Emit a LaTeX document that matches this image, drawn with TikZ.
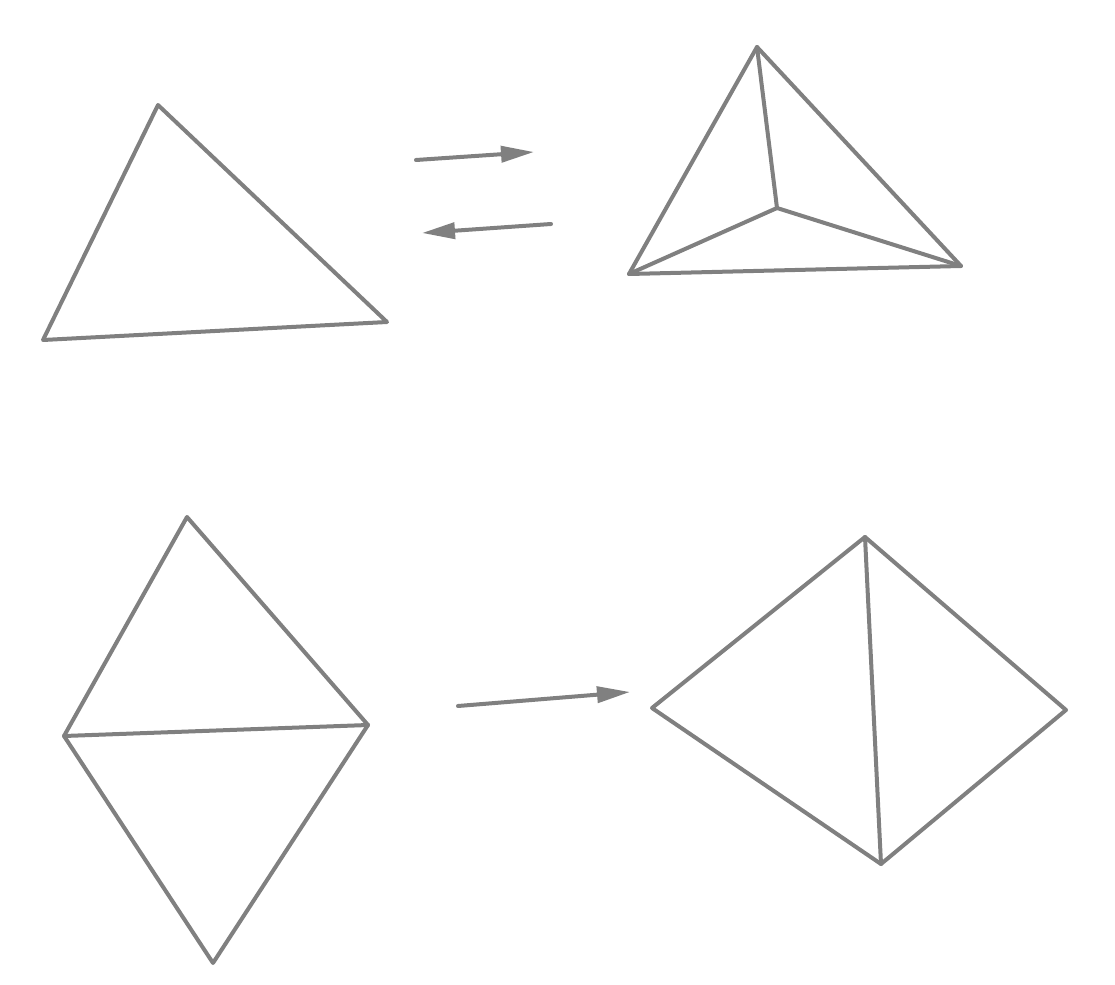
\documentclass[tikz,border=0pt]{standalone}
\usetikzlibrary{arrows.meta}
\begin{document}
\begin{tikzpicture}[x=0.01cm,y=-0.01cm,
  edge/.style={draw=gray,line width=0.04cm,line cap=round,line join=round},
  move/.style={edge,-{Triangle[length=0.33cm,width=0.16cm]}}]
\useasboundingbox (0,0) rectangle (1115,985);
% top left triangle
\coordinate (a1) at (158,105);
\coordinate (a2) at (387,322);
\coordinate (a3) at (43,340);
\draw[edge] (a1) -- (a2) -- (a3) -- cycle;
% top right, triangle with a middle point
\coordinate (b1) at (757,47);
\coordinate (b2) at (629,274);
\coordinate (b3) at (961,266);
\coordinate (b0) at (777,208);
\draw[edge] (b1) -- (b2) -- (b3) -- cycle;
\draw[edge] (b0) -- (b1);
\draw[edge] (b0) -- (b2);
\draw[edge] (b0) -- (b3);
% arrows between the top pictures
\coordinate (p1) at (416,160);
\coordinate (p2) at (534,152);
\coordinate (q1) at (551,224);
\coordinate (q2) at (422,233);
\draw[move] (p1) -- (p2);
\draw[move] (q1) -- (q2);
% bottom left, two triangles
\coordinate (c1) at (187,517);
\coordinate (c2) at (64,736);
\coordinate (c3) at (368,725);
\coordinate (c4) at (213,963);
\draw[edge] (c1) -- (c2) -- (c4) -- (c3) -- cycle;
\draw[edge] (c2) -- (c3);
% arrow
\coordinate (r1) at (458,706);
\coordinate (r2) at (630,692);
\draw[move] (r1) -- (r2);
% bottom right, flipped diagonal
\coordinate (d1) at (865,537);
\coordinate (d2) at (652,708);
\coordinate (d3) at (1066,710);
\coordinate (d4) at (881,864);
\draw[edge] (d1) -- (d2) -- (d4) -- (d3) -- cycle;
\draw[edge] (d1) -- (d4);
\end{tikzpicture}
\end{document}
